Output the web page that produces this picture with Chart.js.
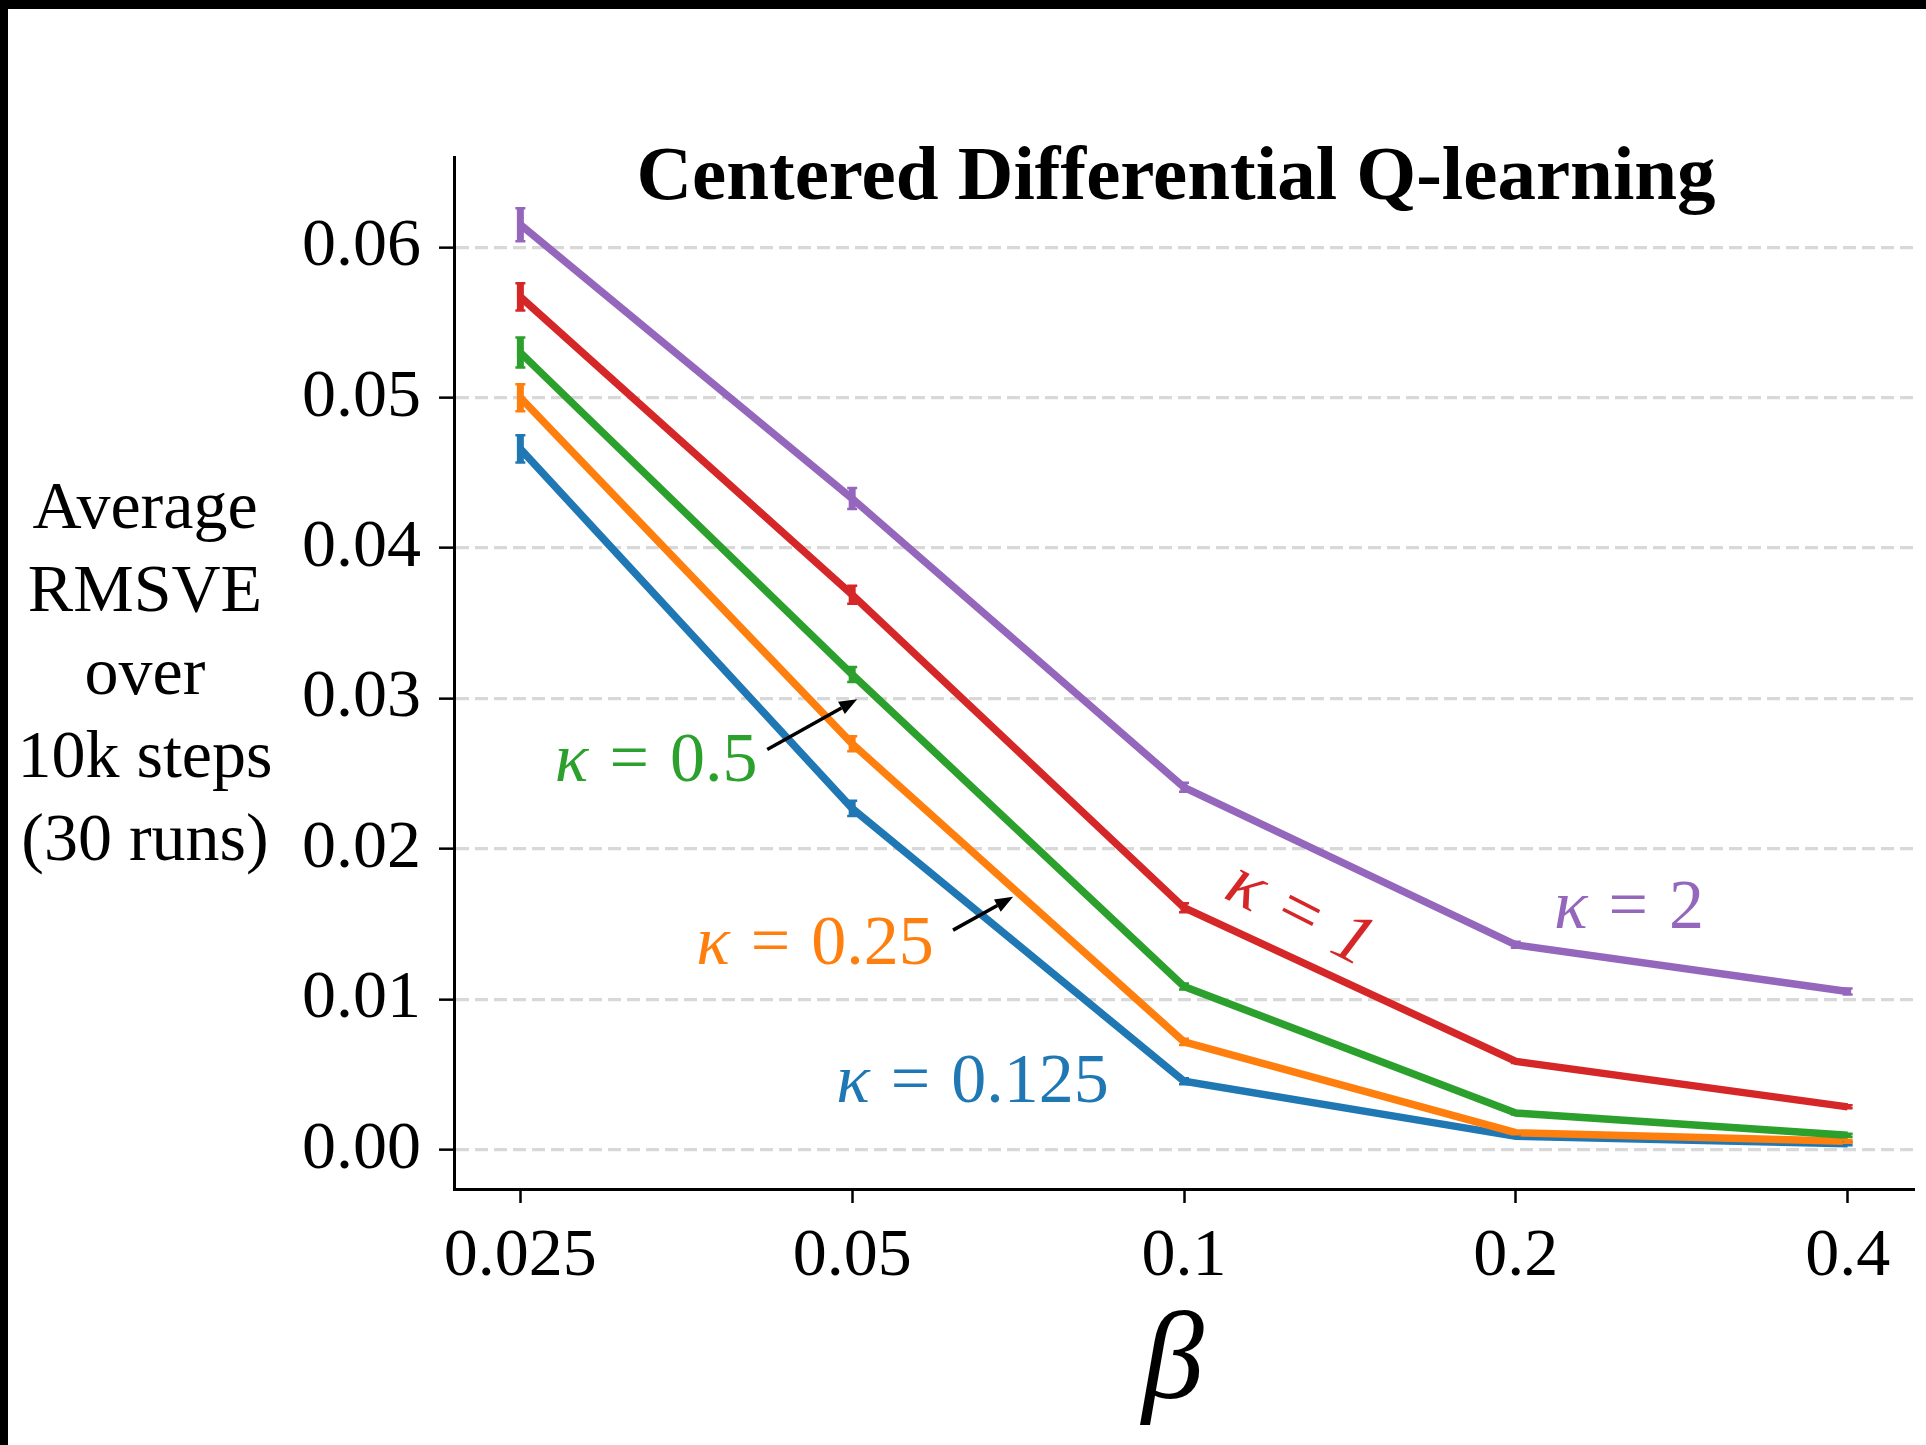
<!DOCTYPE html>
<html><head><meta charset="utf-8">
<script src="https://cdn.jsdelivr.net/npm/chart.js@4.4.1/dist/chart.umd.min.js"></script>
<style>html,body{margin:0;padding:0;background:#fff;overflow:hidden}canvas{display:block}</style>
</head><body>
<canvas id="c" width="1926" height="1445"></canvas>
<script>
// ---- data ----
const betaLabels = ['0.025', '0.05', '0.1', '0.2', '0.4'];
const yTickValues = [0, 0.01, 0.02, 0.03, 0.04, 0.05, 0.06];
const seriesNames = ['κ = 0.125', 'κ = 0.25', 'κ = 0.5', 'κ = 1', 'κ = 2'];
const kappa0125 = [0.0466, 0.0227, 0.00457, 0.0009, 0.0004];
const kappa025  = [0.0500, 0.0270, 0.00718, 0.00114, 0.00057];
const kappa05   = [0.0530, 0.0316, 0.01086, 0.00245, 0.00098];
const kappa1    = [0.0567, 0.0369, 0.0161, 0.00588, 0.00286];
const kappa2    = [0.0615, 0.0433, 0.0241, 0.01363, 0.01053];
const err0125 = [0.0009, 0.0005, 0.0002, 0.0001, 0.0001];
const err025  = [0.0009, 0.0005, 0.0002, 0.0001, 0.0001];
const err05   = [0.0010, 0.0005, 0.0002, 0.0001, 0.0001];
const err1    = [0.0009, 0.0006, 0.0003, 0.0001, 0.0001];
const err2    = [0.0011, 0.0007, 0.0003, 0.0002, 0.0002];

const W = 1926, H = 1445;
const FONT = "'Liberation Serif', 'Times New Roman', serif";
const colors = ['#1f77b4', '#ff7f0e', '#2ca02c', '#d62728', '#9467bd'];
const values = [kappa0125, kappa025, kappa05, kappa1, kappa2];
const errors = [err0125, err025, err05, err1, err2];

// annotation positions (x in beta-index units, y in data units)
const annotations = [
  {kv: '0.125', x: 0.952, y: 0.00318, c: 0, rot: 0, align: 'left'},
  {kv: '0.25', x: 0.53, y: 0.01233, c: 1, rot: 0, align: 'left'},
  {kv: '0.5', x: 0.104, y: 0.02449, c: 2, rot: 0, align: 'left', italicVal: false},
  {kv: '1', x: 2.348, y: 0.0156, c: 3, rot: 27, align: 'center', italicVal: true},
  {kv: '2', x: 3.115, y: 0.01478, c: 4, rot: 0, align: 'left'}
];
const arrows = [
  {x0: 0.744, y0: 0.02661, x1: 1.015, y1: 0.02996},
  {x0: 1.304, y0: 0.01461, x1: 1.485, y1: 0.01682}
];

const datasets = [];
for (let k = values.length - 1; k >= 0; k--) {
  datasets.push({
    label: seriesNames[k],
    data: values[k].map((v, i) => ({x: i, y: v})),
    borderColor: colors[k],
    backgroundColor: colors[k],
    borderWidth: 7.5,
    pointRadius: 0,
    tension: 0,
    fill: false
  });
}

// draw "κ = v" with math-like spacing
function drawKappa(ctx, val, italicVal, x, y, size, align) {
  const gap = size * 0.30;
  const parts = [
    {t: 'κ', f: 'italic ' + size + 'px ' + FONT, pad: gap},
    {t: '=', f: size + 'px ' + FONT, pad: gap},
    {t: val, f: (italicVal ? 'italic ' : '') + size + 'px ' + FONT, pad: 0}
  ];
  let total = 0;
  parts.forEach(p => { ctx.font = p.f; p.w = ctx.measureText(p.t).width; total += p.w + p.pad; });
  let sx = align === 'center' ? x - total / 2 : x;
  ctx.textAlign = 'left';
  parts.forEach(p => { ctx.font = p.f; ctx.fillText(p.t, sx, y); sx += p.w + p.pad; });
}

const deco = {
  id: 'deco',
  beforeDraw(chart) {
    const c = chart.ctx;
    c.save();
    c.fillStyle = '#fff'; c.fillRect(0, 0, W, H);
    c.fillStyle = '#000'; c.fillRect(0, 0, W, 9); c.fillRect(0, 0, 8, H);
    c.restore();
  },
  afterDatasetsDraw(chart) {
    const c = chart.ctx, xs = chart.scales.x, ys = chart.scales.y;
    c.save();
    for (let k = 0; k < values.length; k++) {
      c.strokeStyle = colors[k];
      for (let i = 0; i < values[k].length; i++) {
        const px = xs.getPixelForValue(i);
        const yt = ys.getPixelForValue(values[k][i] + errors[k][i]);
        const yb = ys.getPixelForValue(values[k][i] - errors[k][i]);
        c.lineWidth = 7;
        c.beginPath(); c.moveTo(px, yt); c.lineTo(px, yb); c.stroke();
        c.lineWidth = 2.5;
        c.beginPath(); c.moveTo(px - 5, yt); c.lineTo(px + 5, yt); c.moveTo(px - 5, yb); c.lineTo(px + 5, yb); c.stroke();
      }
    }
    c.restore();
  },
  afterDraw(chart) {
    const c = chart.ctx, xs = chart.scales.x, ys = chart.scales.y;
    c.save();
    // title
    c.fillStyle = '#000';
    c.font = 'bold 77px ' + FONT;
    c.textAlign = 'center'; c.textBaseline = 'alphabetic';
    c.fillText('Centered Differential Q-learning', 1176, 199);
    // y label
    c.font = '68px ' + FONT;
    const ylines = ['Average', 'RMSVE', 'over', '10k steps', '(30 runs)'];
    ylines.forEach((t, i) => c.fillText(t, 145, 528 + i * 83));
    // x label
    c.font = 'italic 124px ' + FONT;
    c.fillText('β', 1173, 1398);
    // annotations
    annotations.forEach(a => {
      c.save();
      c.fillStyle = colors[a.c];
      const px = xs.getPixelForValue(a.x), py = ys.getPixelForValue(a.y);
      if (a.rot) {
        c.translate(px, py); c.rotate(a.rot * Math.PI / 180);
        c.textBaseline = 'middle';
        drawKappa(c, a.kv, a.italicVal, 0, 0, 72, 'center');
      } else {
        c.textBaseline = 'alphabetic';
        drawKappa(c, a.kv, a.italicVal, px, py, 70, a.align);
      }
      c.restore();
    });
    // arrows
    c.strokeStyle = '#000'; c.fillStyle = '#000'; c.lineWidth = 3.5;
    arrows.forEach(a => {
      const x0 = xs.getPixelForValue(a.x0), y0 = ys.getPixelForValue(a.y0);
      const x1 = xs.getPixelForValue(a.x1), y1 = ys.getPixelForValue(a.y1);
      const ang = Math.atan2(y1 - y0, x1 - x0), L = 18, Wd = 7;
      const bx = x1 - L * Math.cos(ang), by = y1 - L * Math.sin(ang);
      c.beginPath(); c.moveTo(x0, y0); c.lineTo(bx, by); c.stroke();
      c.beginPath(); c.moveTo(x1, y1);
      c.lineTo(bx + Wd * Math.sin(ang), by - Wd * Math.cos(ang));
      c.lineTo(bx - Wd * Math.sin(ang), by + Wd * Math.cos(ang));
      c.closePath(); c.fill();
    });
    c.restore();
  }
};

new Chart(document.getElementById('c'), {
  type: 'line',
  data: {datasets},
  options: {
    responsive: false, animation: false, devicePixelRatio: 1,
    layout: {padding: {top: 157, right: 12, left: 0, bottom: 0}},
    plugins: {legend: {display: false}, tooltip: {enabled: false}, title: {display: false}},
    scales: {
      x: {
        type: 'linear', min: -0.2, max: 4.2,
        afterFit(s) { s.height = 256; },
        afterBuildTicks(s) { s.ticks = betaLabels.map((_, i) => ({value: i})); },
        ticks: {callback: v => betaLabels[v], font: {family: FONT, size: 68}, color: '#000', padding: 13, maxRotation: 0, autoSkip: false},
        grid: {drawOnChartArea: false, drawTicks: true, tickLength: 14, tickColor: '#000', tickWidth: 2.5},
        border: {display: true, color: '#000', width: 3}
      },
      y: {
        type: 'linear', min: -0.0026, max: 0.066,
        afterFit(s) { s.width = 454; },
        afterBuildTicks(s) { s.ticks = yTickValues.map(v => ({value: v})); },
        ticks: {callback: v => v.toFixed(2), font: {family: FONT, size: 68}, color: '#000', padding: 18},
        grid: {color: '#d8d8d8', lineWidth: 3.3, tickColor: '#000', tickLength: 15, tickWidth: 2.5},
        border: {display: true, color: '#000', width: 3, dash: [13, 6]}
      }
    }
  },
  plugins: [deco]
});
</script>
</body></html>
